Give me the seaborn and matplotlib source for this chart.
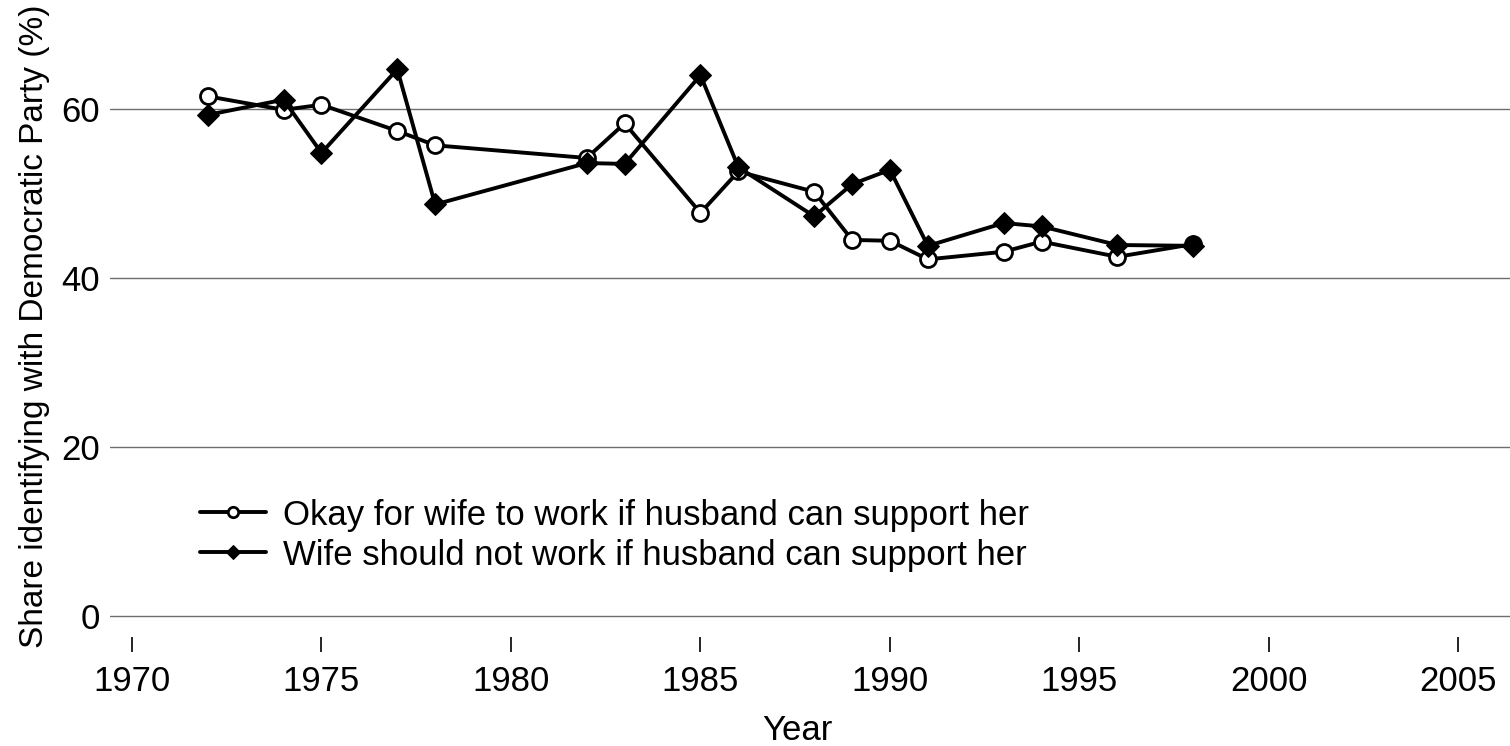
import pandas as pd
import matplotlib
matplotlib.use("Agg")
import matplotlib.pyplot as plt
import seaborn as sns

# values
years = [1972, 1974, 1975, 1977, 1978, 1982, 1983, 1985, 1986,
         1988, 1989, 1990, 1991, 1993, 1994, 1996, 1998]
okay_work = [61.5, 59.9, 60.5, 57.4, 55.7, 54.2, 58.3, 47.7, 52.6,
             50.2, 44.5, 44.4, 42.2, 43.1, 44.3, 42.5, 44.0]
not_work = [59.3, 61.1, 54.8, 64.7, 48.7, 53.6, 53.5, 64.0, 53.1,
            47.3, 51.1, 52.8, 43.8, 46.5, 46.1, 43.9, 43.8]
labels = ["Okay for wife to work if husband can support her",
          "Wife should not work if husband can support her"]
x_ticks = [1970, 1975, 1980, 1985, 1990, 1995, 2000, 2005]
y_ticks = [0, 20, 40, 60]

df = pd.DataFrame({
    "Year": years * 2,
    "Share": okay_work + not_work,
    "Series": [labels[0]] * len(years) + [labels[1]] * len(years),
})

sns.set_style("white")
plt.rcParams["font.family"] = ["Liberation Sans", "DejaVu Sans"]
plt.rcParams["text.color"] = "black"
plt.rcParams["axes.labelcolor"] = "black"
plt.rcParams["xtick.color"] = "black"
plt.rcParams["ytick.color"] = "black"

fig = plt.figure(figsize=(15.1, 7.46), dpi=100)
ax = fig.add_axes([110 / 1510, 109 / 746, 1400 / 1510, 629.4 / 746])

for y in y_ticks:
    ax.axhline(y, color="#6e6e6e", lw=1.0, zorder=0)

sns.lineplot(data=df[df["Series"] == labels[0]], x="Year", y="Share",
             ax=ax, color="black", lw=2.8, marker="o", markersize=11.5,
             markerfacecolor="white", markeredgecolor="black",
             markeredgewidth=2.0, label=labels[0], zorder=3)
sns.lineplot(data=df[df["Series"] == labels[1]], x="Year", y="Share",
             ax=ax, color="black", lw=2.8, marker="D", markersize=11,
             markerfacecolor="black", markeredgecolor="black",
             label=labels[1], zorder=4)

ax.set_xlim(1969.42, 2006.36)
ax.set_ylim(-2.5, 72)
ax.set_xticks(x_ticks)
ax.set_yticks(y_ticks)
for s in ax.spines.values():
    s.set_visible(False)
ax.tick_params(axis="x", direction="out", length=11, width=1.2,
               pad=9, labelsize=25, bottom=True)
ax.tick_params(axis="y", length=0, pad=7, labelsize=25)

ax.set_xlabel("Year", fontsize=25)
ax.xaxis.set_label_coords(0.491, -0.123)
ax.set_ylabel("Share identifying with Democratic Party (%)", fontsize=24)
ax.yaxis.set_label_coords(-0.043, 0.493)

ax.legend(loc="center left", bbox_to_anchor=(0.064, 0.162), frameon=False,
          fontsize=25, borderpad=0, borderaxespad=0, handlelength=1.9,
          handletextpad=0.49, labelspacing=0.2, markerscale=0.65)

fig.savefig("out.png", dpi=100)
